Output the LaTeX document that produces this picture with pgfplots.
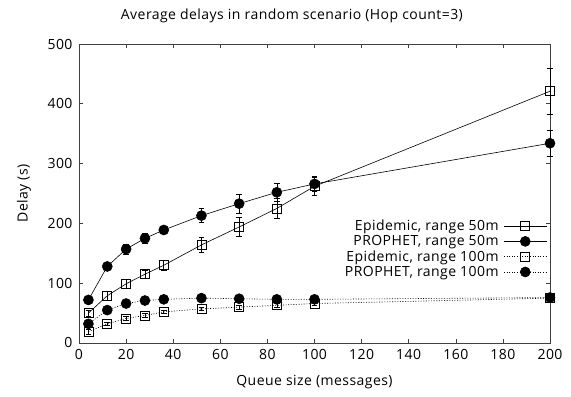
\documentclass[border=0pt]{standalone}
\usepackage{fontspec}
\setmainfont{Open Sans}[LetterSpace=3.2]
\usepackage{pgfplots}
\pgfplotsset{compat=1.18}
\usepackage{pgfplotstable}
\pgfplotstableread{
x y e
4 50 5
12 79 8
20 99 8
28 115 7
36 130 9
52 164 12
68 194 16
84 225 17
100 262 15
200 421 38
}\epiA
\pgfplotstableread{
x y e
4 72 4
12 128 5
20 157 8
28 175 8
36 189 6
52 213 12
68 233 16
84 252 15
100 266 12
200 334 21
}\proA
\pgfplotstableread{
x y e
4 19 4
12 32 3
20 41 3
28 46 3
36 52 3
52 57 3
68 60 3
84 63 3
100 66 3
200 75 3
}\epiB
\pgfplotstableread{
x y e
4 32 3
12 55 3
20 66 3
28 71 3
36 73 3
52 75 3
68 74 3
84 73 3
100 73 3
200 76 3
}\proB
\definecolor{axgray}{RGB}{64,64,64}
\begin{document}
\begin{tikzpicture}[font=\fontsize{14}{16}\selectfont]
\begin{axis}[
  name=ax,
  scale only axis,
  width=471pt, height=299pt,
  xmin=0, xmax=200, ymin=0, ymax=500,
  xtick={0,20,...,200}, ytick={0,100,...,500},
  tick align=inside, major tick length=4pt,
  axis line style={axgray, line width=0.8pt},
  tick style={axgray, line width=0.6pt},
  /pgf/number format/assume math mode=true,
  xticklabel style={yshift=-3pt},
  yticklabel style={xshift=-3pt},
  clip=false,
  title={Average delays in random scenario (Hop count=3)},
  title style={at={(0.452,1)}, anchor=south, yshift=12pt},
  xlabel={Queue size (messages)},
  ylabel={Delay (s)},
  xlabel style={at={(0.5,-0.130)}, anchor=center},
  ylabel style={at={(-0.117,0.5)}, anchor=center},
  legend cell align=right,
  legend plot pos=right,
  legend style={draw=none, fill=none, at={(0.996,0.422)}, anchor=north east,
    row sep=-0.6pt, inner sep=1pt, nodes={inner xsep=5pt}},
  legend image code/.code={\draw[mark repeat=2,mark phase=2,#1] plot coordinates {(0cm,0cm) (0.75cm,0cm) (1.5cm,0cm)};},
  every axis plot/.append style={black, line width=0.6pt},
  error bars/y dir=both, error bars/y explicit,
  error bars/error mark options={rotate=90, mark size=2.8pt, line width=0.6pt},
  error bars/error bar style={line width=0.6pt},
]
\addplot[mark=square, mark size=4.5pt, mark options={solid, line width=0.7pt, fill=none}] table[x=x,y=y,y error=e]{\epiA};
\addlegendentry{Epidemic, range 50m}
\addplot[mark=*, mark size=5pt, mark options={solid}] table[x=x,y=y,y error=e]{\proA};
\addlegendentry{PROPHET, range 50m}
\addplot[dash pattern=on 1pt off 1.6pt, mark=square, mark size=4.5pt, mark options={solid, line width=0.7pt, fill=none}, error bars/error bar style={solid}] table[x=x,y=y,y error=e]{\epiB};
\addlegendentry{Epidemic, range 100m}
\addplot[dash pattern=on 1pt off 1.6pt, mark=*, mark size=5pt, mark options={solid}, error bars/error bar style={solid}] table[x=x,y=y,y error=e]{\proB};
\addlegendentry{PROPHET, range 100m}
\end{axis}
\path ([xshift=-79pt,yshift=-54pt]ax.south west) rectangle ([xshift=21pt,yshift=44pt]ax.north east);
\end{tikzpicture}
\end{document}
